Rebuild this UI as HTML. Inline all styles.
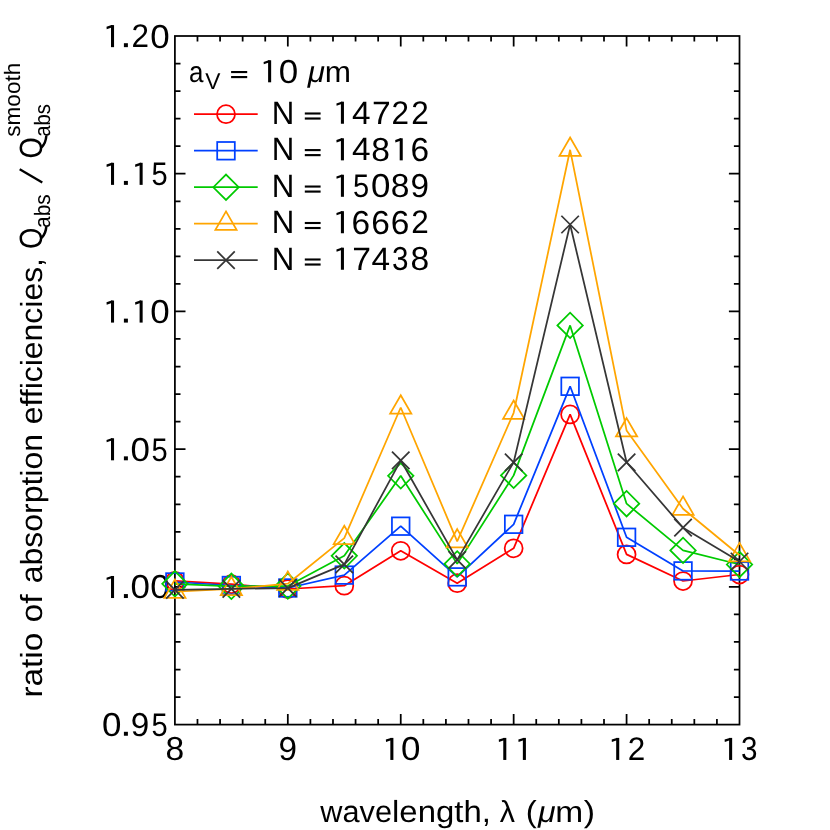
<!DOCTYPE html>
<html><head><meta charset="utf-8"><title>chart</title>
<style>
html,body{margin:0;padding:0;background:#fff;}
body{width:830px;height:830px;overflow:hidden;}
svg{display:block;will-change:transform;}
text{font-family:"Liberation Sans",sans-serif;fill:#000;text-rendering:geometricPrecision;}
</style></head><body>
<svg width="830" height="830" viewBox="0 0 830 830">
<rect width="830" height="830" fill="#fff"/>

<g fill="#000">
<text transform="translate(271.72 123.75) scale(0.9693 1)" font-size="32.2">N</text>
<rect x="304.80" y="112.45" width="15.80" height="2.1"/><rect x="304.80" y="117.45" width="15.80" height="2.15"/>
<rect x="340.90" y="101.70" width="3.05" height="22.05"/><path d="M342.40 101.70H341.40L336.40 103.40L336.60 105.80L340.90 104.30H342.40Z"/><text transform="translate(351.96 123.75) scale(1.0366 1)" font-size="32.2">4</text><text transform="translate(371.96 123.75) scale(1.0460 1)" font-size="32.2">7</text><text transform="translate(391.62 123.75) scale(0.9773 1.015)" font-size="32.2">2</text><text transform="translate(411.22 123.75) scale(0.9773 1.015)" font-size="32.2">2</text>
<text transform="translate(271.72 160.35) scale(0.9693 1)" font-size="32.2">N</text>
<rect x="304.80" y="149.05" width="15.80" height="2.1"/><rect x="304.80" y="154.05" width="15.80" height="2.15"/>
<rect x="340.90" y="138.30" width="3.05" height="22.05"/><path d="M342.40 138.30H341.40L336.40 140.00L336.60 142.40L340.90 140.90H342.40Z"/><text transform="translate(351.96 160.35) scale(1.0366 1)" font-size="32.2">4</text><text transform="translate(371.26 160.70) scale(1.0436 1.03)" font-size="32.2">8</text><rect x="399.70" y="138.30" width="3.05" height="22.05"/><path d="M401.20 138.30H400.20L395.20 140.00L395.40 142.40L399.70 140.90H401.20Z"/><text transform="translate(410.39 160.70) scale(1.0373 1.03)" font-size="32.2">6</text>
<text transform="translate(271.72 196.80) scale(0.9693 1)" font-size="32.2">N</text>
<rect x="304.80" y="185.50" width="15.80" height="2.1"/><rect x="304.80" y="190.50" width="15.80" height="2.15"/>
<rect x="340.90" y="174.75" width="3.05" height="22.05"/><path d="M342.40 174.75H341.40L336.40 176.45L336.60 178.85L340.90 177.35H342.40Z"/><text transform="translate(352.89 197.15) scale(0.9022 1.015)" font-size="32.2">5</text><text transform="translate(371.10 197.15) scale(1.0836 1.03)" font-size="32.2">0</text><text transform="translate(390.86 197.15) scale(1.0436 1.03)" font-size="32.2">8</text><text transform="translate(410.57 197.15) scale(1.0310 1.03)" font-size="32.2">9</text>
<text transform="translate(271.72 233.25) scale(0.9693 1)" font-size="32.2">N</text>
<rect x="304.80" y="221.95" width="15.80" height="2.1"/><rect x="304.80" y="226.95" width="15.80" height="2.15"/>
<rect x="340.90" y="211.20" width="3.05" height="22.05"/><path d="M342.40 211.20H341.40L336.40 212.90L336.60 215.30L340.90 213.80H342.40Z"/><text transform="translate(351.59 233.60) scale(1.0373 1.03)" font-size="32.2">6</text><text transform="translate(371.19 233.60) scale(1.0373 1.03)" font-size="32.2">6</text><text transform="translate(390.79 233.60) scale(1.0373 1.03)" font-size="32.2">6</text><text transform="translate(411.22 233.25) scale(0.9773 1.015)" font-size="32.2">2</text>
<text transform="translate(271.72 269.70) scale(0.9693 1)" font-size="32.2">N</text>
<rect x="304.80" y="258.45" width="15.80" height="2.1"/><rect x="304.80" y="263.45" width="15.80" height="2.15"/>
<rect x="340.90" y="247.70" width="3.05" height="22.05"/><path d="M342.40 247.70H341.40L336.40 249.40L336.60 251.80L340.90 250.30H342.40Z"/><text transform="translate(352.36 269.75) scale(1.0460 1)" font-size="32.2">7</text><text transform="translate(371.56 269.75) scale(1.0366 1)" font-size="32.2">4</text><text transform="translate(392.01 270.10) scale(0.9201 1.03)" font-size="32.2">3</text><text transform="translate(410.46 270.10) scale(1.0436 1.03)" font-size="32.2">8</text>
<text transform="translate(188.89 82.30) scale(0.8782 1)" font-size="29.6">a</text>
<text transform="translate(205.29 89.30) scale(0.9979 1)" font-size="22.8">V</text>
<text transform="translate(307.78 82.30) scale(1.0606 1)" font-size="29.6" font-style="italic">&#956;</text>
<text transform="translate(324.85 82.30) scale(1.0645 1)" font-size="29.6">m</text>
<rect x="231.10" y="71.00" width="16.10" height="2.1"/><rect x="231.10" y="76.00" width="16.10" height="2.15"/>
<rect x="268.10" y="60.25" width="3.05" height="22.05"/><path d="M269.60 60.25H268.60L263.60 61.95L263.80 64.35L268.10 62.85H269.60Z"/><text transform="translate(278.70 82.65) scale(1.0836 1.03)" font-size="32.2">0</text>
<rect x="111.00" y="25.10" width="3.05" height="22.05"/><path d="M112.50 25.10H111.50L106.50 26.80L106.70 29.20L111.00 27.70H112.50Z"/><rect x="123.90" y="43.20" width="4.0" height="3.95"/><text transform="translate(131.52 47.15) scale(0.9773 1.015)" font-size="32.2">2</text><text transform="translate(150.20 47.50) scale(1.0836 1.03)" font-size="32.2">0</text>
<rect x="111.00" y="162.82" width="3.05" height="22.05"/><path d="M112.50 162.82H111.50L106.50 164.52L106.70 166.92L111.00 165.42H112.50Z"/><rect x="123.90" y="180.92" width="4.0" height="3.95"/><rect x="139.60" y="162.82" width="3.05" height="22.05"/><path d="M141.10 162.82H140.10L135.10 164.52L135.30 166.92L139.60 165.42H141.10Z"/><text transform="translate(151.59 185.22) scale(0.9022 1.015)" font-size="32.2">5</text>
<rect x="111.00" y="300.54" width="3.05" height="22.05"/><path d="M112.50 300.54H111.50L106.50 302.24L106.70 304.64L111.00 303.14H112.50Z"/><rect x="123.90" y="318.64" width="4.0" height="3.95"/><rect x="139.60" y="300.54" width="3.05" height="22.05"/><path d="M141.10 300.54H140.10L135.10 302.24L135.30 304.64L139.60 303.14H141.10Z"/><text transform="translate(150.20 322.94) scale(1.0836 1.03)" font-size="32.2">0</text>
<rect x="111.00" y="438.26" width="3.05" height="22.05"/><path d="M112.50 438.26H111.50L106.50 439.96L106.70 442.36L111.00 440.86H112.50Z"/><rect x="123.90" y="456.36" width="4.0" height="3.95"/><text transform="translate(130.60 460.66) scale(1.0836 1.03)" font-size="32.2">0</text><text transform="translate(151.59 460.66) scale(0.9022 1.015)" font-size="32.2">5</text>
<rect x="111.00" y="575.98" width="3.05" height="22.05"/><path d="M112.50 575.98H111.50L106.50 577.68L106.70 580.08L111.00 578.58H112.50Z"/><rect x="123.90" y="594.08" width="4.0" height="3.95"/><text transform="translate(130.60 598.38) scale(1.0836 1.03)" font-size="32.2">0</text><text transform="translate(150.20 598.38) scale(1.0836 1.03)" font-size="32.2">0</text>
<text transform="translate(102.00 736.10) scale(1.0836 1.03)" font-size="32.2">0</text><rect x="123.90" y="731.80" width="4.0" height="3.95"/><text transform="translate(130.87 736.10) scale(1.0310 1.03)" font-size="32.2">9</text><text transform="translate(151.59 736.10) scale(0.9022 1.015)" font-size="32.2">5</text>
<text transform="translate(165.46 760.30) scale(1.0436 1.03)" font-size="32.2">8</text>
<text transform="translate(278.49 760.30) scale(1.0310 1.03)" font-size="32.2">9</text>
<rect x="390.34" y="737.90" width="3.05" height="22.05"/><path d="M391.84 737.90H390.84L385.84 739.60L386.04 742.00L390.34 740.50H391.84Z"/><text transform="translate(400.94 760.30) scale(1.0836 1.03)" font-size="32.2">0</text>
<rect x="503.26" y="737.90" width="3.05" height="22.05"/><path d="M504.76 737.90H503.76L498.76 739.60L498.96 742.00L503.26 740.50H504.76Z"/><rect x="522.86" y="737.90" width="3.05" height="22.05"/><path d="M524.36 737.90H523.36L518.36 739.60L518.56 742.00L522.86 740.50H524.36Z"/>
<rect x="616.18" y="737.90" width="3.05" height="22.05"/><path d="M617.68 737.90H616.68L611.68 739.60L611.88 742.00L616.18 740.50H617.68Z"/><text transform="translate(627.70 759.95) scale(0.9773 1.015)" font-size="32.2">2</text>
<rect x="729.10" y="737.90" width="3.05" height="22.05"/><path d="M730.60 737.90H729.60L724.60 739.60L724.80 742.00L729.10 740.50H730.60Z"/><text transform="translate(741.01 760.30) scale(0.9201 1.03)" font-size="32.2">3</text>
<text transform="translate(320.32 822.00) scale(1.0067 1)" font-size="30.5">wave</text>
<text transform="translate(392.03 822.00) scale(1.0795 1)" font-size="30.5">length,</text>
<text transform="translate(499.69 822.00) scale(0.9979 1)" font-size="30.5">&#955;</text>
<text transform="translate(525.70 822.00) scale(1.0863 1)" font-size="30.5">(</text>
<text transform="translate(538.03 822.00) scale(1.0827 1)" font-size="29.6" font-style="italic">&#956;</text>
<text transform="translate(555.32 822.00) scale(1.1323 1)" font-size="29.6">m</text>
<text transform="translate(583.63 822.00) scale(1.1082 1)" font-size="30.5">)</text>
<text transform="translate(42.20 697.50) rotate(-90) scale(1.0920 1)" font-size="30.5">ratio</text>
<text transform="translate(42.20 622.45) rotate(-90) scale(1.1041 1)" font-size="30.5">of</text>
<text transform="translate(42.20 583.30) rotate(-90) scale(1.0478 1)" font-size="30.5">absorption</text>
<text transform="translate(42.20 424.21) rotate(-90) scale(1.0464 1)" font-size="30.5">efficiencies,</text>
<text transform="translate(42.20 249.01) rotate(-90) scale(0.8507 1)" font-size="32.2">O</text>
<text transform="translate(50.10 227.88) rotate(-90) scale(0.9323 1)" font-size="22.3">abs</text>
<text transform="translate(42.20 158.48) rotate(-90) scale(0.8482 1)" font-size="32.2">O</text>
<text transform="translate(50.10 136.63) rotate(-90) scale(0.9069 1)" font-size="22.3">abs</text>
<text transform="translate(20.10 136.71) rotate(-90) scale(1.0118 1)" font-size="22.3">smooth</text>
<path d="M42.3 182.5L19.7 169.3" stroke="#000" stroke-width="2.3" fill="none"/>
<path d="M41.6 147.3Q45.9 143.0 46.3 135.8M41.6 237.9Q45.9 233.6 46.3 226.4" stroke="#000" stroke-width="2.5" fill="none"/>
</g>
<g stroke="#000" stroke-width="1.75" fill="none" stroke-linecap="butt">
<rect x="174.9" y="36.0" width="564.60" height="688.60"/>
<path d="M197.48 724.6v-5.6M197.48 36.0v5.6M220.07 724.6v-5.6M220.07 36.0v5.6M242.65 724.6v-5.6M242.65 36.0v5.6M265.24 724.6v-5.6M265.24 36.0v5.6M287.82 724.6v-10.6M287.82 36.0v10.6M310.40 724.6v-5.6M310.40 36.0v5.6M332.99 724.6v-5.6M332.99 36.0v5.6M355.57 724.6v-5.6M355.57 36.0v5.6M378.16 724.6v-5.6M378.16 36.0v5.6M400.74 724.6v-10.6M400.74 36.0v10.6M423.32 724.6v-5.6M423.32 36.0v5.6M445.91 724.6v-5.6M445.91 36.0v5.6M468.49 724.6v-5.6M468.49 36.0v5.6M491.08 724.6v-5.6M491.08 36.0v5.6M513.66 724.6v-10.6M513.66 36.0v10.6M536.24 724.6v-5.6M536.24 36.0v5.6M558.83 724.6v-5.6M558.83 36.0v5.6M581.41 724.6v-5.6M581.41 36.0v5.6M604.00 724.6v-5.6M604.00 36.0v5.6M626.58 724.6v-10.6M626.58 36.0v10.6M649.16 724.6v-5.6M649.16 36.0v5.6M671.75 724.6v-5.6M671.75 36.0v5.6M694.33 724.6v-5.6M694.33 36.0v5.6M716.92 724.6v-5.6M716.92 36.0v5.6M174.9 63.54h5.6M739.5 63.54h-5.6M174.9 91.09h5.6M739.5 91.09h-5.6M174.9 118.63h5.6M739.5 118.63h-5.6M174.9 146.18h5.6M739.5 146.18h-5.6M174.9 173.72h10.6M739.5 173.72h-10.6M174.9 201.26h5.6M739.5 201.26h-5.6M174.9 228.81h5.6M739.5 228.81h-5.6M174.9 256.35h5.6M739.5 256.35h-5.6M174.9 283.90h5.6M739.5 283.90h-5.6M174.9 311.44h10.6M739.5 311.44h-10.6M174.9 338.98h5.6M739.5 338.98h-5.6M174.9 366.53h5.6M739.5 366.53h-5.6M174.9 394.07h5.6M739.5 394.07h-5.6M174.9 421.62h5.6M739.5 421.62h-5.6M174.9 449.16h10.6M739.5 449.16h-10.6M174.9 476.70h5.6M739.5 476.70h-5.6M174.9 504.25h5.6M739.5 504.25h-5.6M174.9 531.79h5.6M739.5 531.79h-5.6M174.9 559.34h5.6M739.5 559.34h-5.6M174.9 586.88h10.6M739.5 586.88h-10.6M174.9 614.42h5.6M739.5 614.42h-5.6M174.9 641.97h5.6M739.5 641.97h-5.6M174.9 669.51h5.6M739.5 669.51h-5.6M174.9 697.06h5.6M739.5 697.06h-5.6"/>
</g>
<g stroke="#ff0000" stroke-width="1.75" fill="none" stroke-linejoin="miter" stroke-miterlimit="4">
<polyline points="174.90,580.90 231.36,584.20 287.82,589.00 344.28,585.70 400.74,550.80 457.20,583.20 513.66,548.30 570.12,414.40 626.58,554.40 683.04,581.00 739.50,574.50" stroke-linejoin="bevel"/>
<circle cx="174.90" cy="580.90" r="9.0"/>
<circle cx="231.36" cy="584.20" r="9.0"/>
<circle cx="287.82" cy="589.00" r="9.0"/>
<circle cx="344.28" cy="585.70" r="9.0"/>
<circle cx="400.74" cy="550.80" r="9.0"/>
<circle cx="457.20" cy="583.20" r="9.0"/>
<circle cx="513.66" cy="548.30" r="9.0"/>
<circle cx="570.12" cy="414.40" r="9.0"/>
<circle cx="626.58" cy="554.40" r="9.0"/>
<circle cx="683.04" cy="581.00" r="9.0"/>
<circle cx="739.50" cy="574.50" r="9.0"/>
</g>
<g stroke="#0040ff" stroke-width="1.75" fill="none" stroke-linejoin="miter" stroke-miterlimit="4">
<polyline points="174.90,582.00 231.36,585.50 287.82,588.00 344.28,575.10 400.74,526.20 457.20,576.90 513.66,524.30 570.12,386.30 626.58,537.30 683.04,570.90 739.50,571.00" stroke-linejoin="bevel"/>
<rect x="166.10" y="573.20" width="17.60" height="17.60"/>
<rect x="222.56" y="576.70" width="17.60" height="17.60"/>
<rect x="279.02" y="579.20" width="17.60" height="17.60"/>
<rect x="335.48" y="566.30" width="17.60" height="17.60"/>
<rect x="391.94" y="517.40" width="17.60" height="17.60"/>
<rect x="448.40" y="568.10" width="17.60" height="17.60"/>
<rect x="504.86" y="515.50" width="17.60" height="17.60"/>
<rect x="561.32" y="377.50" width="17.60" height="17.60"/>
<rect x="617.78" y="528.50" width="17.60" height="17.60"/>
<rect x="674.24" y="562.10" width="17.60" height="17.60"/>
<rect x="730.70" y="562.20" width="17.60" height="17.60"/>
</g>
<g stroke="#00ca00" stroke-width="1.75" fill="none" stroke-linejoin="miter" stroke-miterlimit="4">
<polyline points="174.90,583.80 231.36,586.30 287.82,586.00 344.28,555.80 400.74,475.80 457.20,563.90 513.66,475.40 570.12,325.40 626.58,503.70 683.04,550.40 739.50,564.50" stroke-linejoin="bevel"/>
<path d="M162.20 583.80L174.90 571.10L187.60 583.80L174.90 596.50Z"/>
<path d="M218.66 586.30L231.36 573.60L244.06 586.30L231.36 599.00Z"/>
<path d="M275.12 586.00L287.82 573.30L300.52 586.00L287.82 598.70Z"/>
<path d="M331.58 555.80L344.28 543.10L356.98 555.80L344.28 568.50Z"/>
<path d="M388.04 475.80L400.74 463.10L413.44 475.80L400.74 488.50Z"/>
<path d="M444.50 563.90L457.20 551.20L469.90 563.90L457.20 576.60Z"/>
<path d="M500.96 475.40L513.66 462.70L526.36 475.40L513.66 488.10Z"/>
<path d="M557.42 325.40L570.12 312.70L582.82 325.40L570.12 338.10Z"/>
<path d="M613.88 503.70L626.58 491.00L639.28 503.70L626.58 516.40Z"/>
<path d="M670.34 550.40L683.04 537.70L695.74 550.40L683.04 563.10Z"/>
<path d="M726.80 564.50L739.50 551.80L752.20 564.50L739.50 577.20Z"/>
</g>
<g stroke="#ffa500" stroke-width="1.75" fill="none" stroke-linejoin="miter" stroke-miterlimit="4">
<polyline points="174.90,591.70 231.36,589.00 287.82,583.70 344.28,538.10 400.74,407.50 457.20,541.40 513.66,412.80 570.12,149.80 626.58,430.40 683.04,508.70 739.50,555.20" stroke-linejoin="bevel"/>
<path d="M174.90 579.40L185.50 597.75L164.30 597.75Z"/>
<path d="M231.36 576.70L241.96 595.05L220.76 595.05Z"/>
<path d="M287.82 571.40L298.42 589.75L277.22 589.75Z"/>
<path d="M344.28 525.80L354.88 544.15L333.68 544.15Z"/>
<path d="M400.74 395.20L411.34 413.55L390.14 413.55Z"/>
<path d="M457.20 529.10L467.80 547.45L446.60 547.45Z"/>
<path d="M513.66 400.50L524.26 418.85L503.06 418.85Z"/>
<path d="M570.12 137.50L580.72 155.85L559.52 155.85Z"/>
<path d="M626.58 418.10L637.18 436.45L615.98 436.45Z"/>
<path d="M683.04 496.40L693.64 514.75L672.44 514.75Z"/>
<path d="M739.50 542.90L750.10 561.25L728.90 561.25Z"/>
</g>
<g stroke="#363636" stroke-width="1.75" fill="none" stroke-linejoin="miter" stroke-miterlimit="4">
<polyline points="174.90,589.80 231.36,588.80 287.82,588.10 344.28,564.40 400.74,460.30 457.20,559.90 513.66,462.30 570.12,224.50 626.58,462.30 683.04,527.70 739.50,561.50" stroke-linejoin="bevel"/>
<path d="M166.15 581.05L183.65 598.55M166.15 598.55L183.65 581.05"/>
<path d="M222.61 580.05L240.11 597.55M222.61 597.55L240.11 580.05"/>
<path d="M279.07 579.35L296.57 596.85M279.07 596.85L296.57 579.35"/>
<path d="M335.53 555.65L353.03 573.15M335.53 573.15L353.03 555.65"/>
<path d="M391.99 451.55L409.49 469.05M391.99 469.05L409.49 451.55"/>
<path d="M448.45 551.15L465.95 568.65M448.45 568.65L465.95 551.15"/>
<path d="M504.91 453.55L522.41 471.05M504.91 471.05L522.41 453.55"/>
<path d="M561.37 215.75L578.87 233.25M561.37 233.25L578.87 215.75"/>
<path d="M617.83 453.55L635.33 471.05M617.83 471.05L635.33 453.55"/>
<path d="M674.29 518.95L691.79 536.45M674.29 536.45L691.79 518.95"/>
<path d="M730.75 552.75L748.25 570.25M730.75 570.25L748.25 552.75"/>
</g>
<g stroke="#ff0000" stroke-width="1.75" fill="none">
<path d="M194 114.0H257.7"/>
<circle cx="226.00" cy="114.20" r="9.0"/>
</g>
<g stroke="#0040ff" stroke-width="1.75" fill="none">
<path d="M194 150.6H257.7"/>
<rect x="217.20" y="142.00" width="17.60" height="17.60"/>
</g>
<g stroke="#00ca00" stroke-width="1.75" fill="none">
<path d="M194 187.05H257.7"/>
<path d="M213.30 187.25L226.00 174.55L238.70 187.25L226.00 199.95Z"/>
</g>
<g stroke="#ffa500" stroke-width="1.75" fill="none">
<path d="M194 223.5H257.7"/>
<path d="M226.00 211.40L236.60 229.75L215.40 229.75Z"/>
</g>
<g stroke="#363636" stroke-width="1.75" fill="none">
<path d="M194 260.0H257.7"/>
<path d="M217.25 251.45L234.75 268.95M217.25 268.95L234.75 251.45"/>
</g>
</svg></body></html>
